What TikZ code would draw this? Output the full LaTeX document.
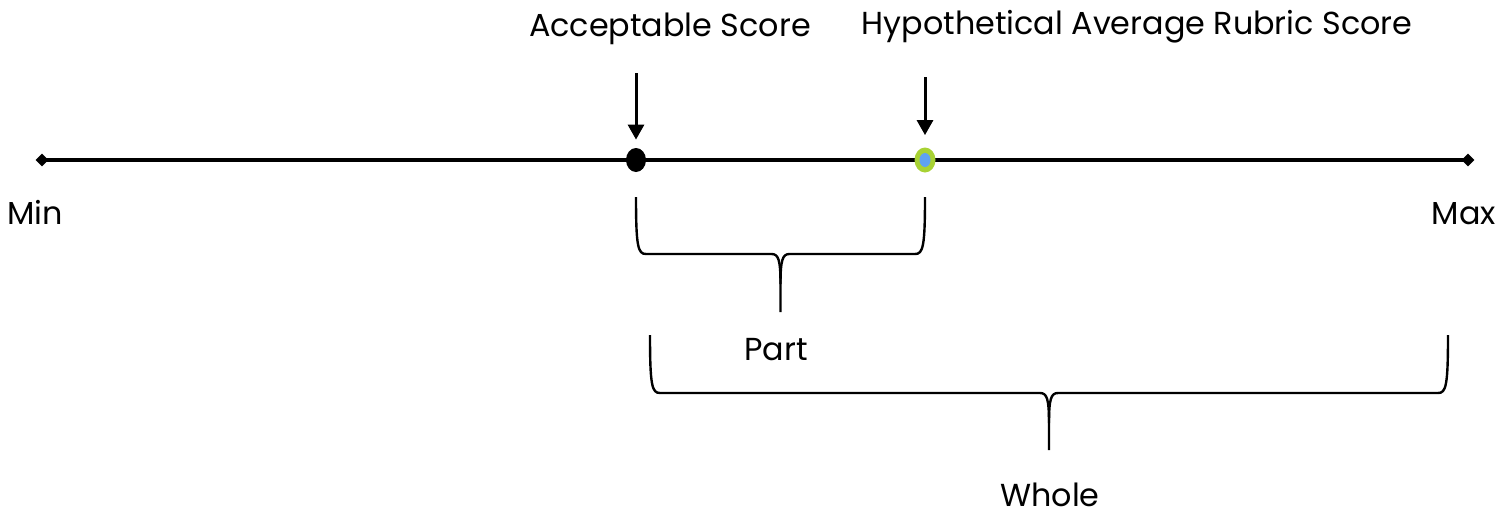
\documentclass[tikz,border=0pt]{standalone}
\usepackage{fontspec}
\setmainfont{Poppins}
\usetikzlibrary{arrows.meta,shapes.geometric}
\definecolor{ringgreen}{HTML}{A8D234}
\definecolor{coreblue}{HTML}{5EA2F2}
% curly brace: left x, right x, top y, bar y, tip y
\newcommand\spanbrace[5]{%
  \pgfmathsetmacro\bracemid{(#1+#2)/2}%
  \draw[bracestyle] (#1,#3) .. controls (#1,#4-7) and (#1+2,#4) .. (#1+10,#4)
    -- (\bracemid-9,#4) .. controls (\bracemid-2,#4) and (\bracemid,#4+6) .. (\bracemid,#4+30)
    -- (\bracemid,#5);
  \draw[bracestyle] (#2,#3) .. controls (#2,#4-7) and (#2-2,#4) .. (#2-10,#4)
    -- (\bracemid+9,#4) .. controls (\bracemid+2,#4) and (\bracemid,#4+6) .. (\bracemid,#4+30);
}
\begin{document}
\begin{tikzpicture}[x=0.5pt,y=-0.5pt,
  axis/.style={line width=2pt},
  endmark/.style={diamond,fill=black,inner sep=0pt,minimum size=6.5pt},
  pointer/.style={line width=1.5pt,-{Triangle[width=8pt,length=7.5pt]}},
  bracestyle/.style={line width=1.2pt,line join=round},
  lbl/.style={font=\fontsize{15.9pt}{19pt}\selectfont,inner sep=0pt,anchor=base}]
\useasboundingbox (0,0) rectangle (1506,515);

% number line with its two end marks
\node[endmark] (min) at (42,160) {};
\node[endmark] (max) at (1468,160) {};
\draw[axis] (min.center) -- (max.center);

% the two marked scores
\node[ellipse,fill=black,inner sep=0pt,minimum width=10pt,minimum height=12pt] (acc) at (636,160) {};
\node[ellipse,fill=ringgreen,inner sep=0pt,minimum width=10.5pt,minimum height=12.5pt] (avg) at (925,160) {};
\node[ellipse,fill=coreblue,inner sep=0pt,minimum width=5.5pt,minimum height=7pt] (avgcore) at (925,160) {};

% labels
\node[lbl] (acclbl) at (670,36) {Acceptable Score};
\node[lbl] (avglbl) at (1137,34) {Hypothetical Average Rubric Score};
\node[lbl] (minlbl) at (35,224) {Min};
\node[lbl] (maxlbl) at (1464,224) {Max};
\node[lbl] (partlbl) at (776,360) {Part};
\node[lbl] (wholelbl) at (1050,506) {Whole};

% pointers onto the scores
\coordinate (acctop) at (636,73);
\coordinate (avgtop) at (925,77);
\draw[pointer] (acctop) -- ([yshift=4pt]acc.north);
\draw[pointer] (avgtop) -- ([yshift=6pt]avg.north);

% part and whole braces
\spanbrace{636}{925}{197}{254}{312}
\spanbrace{650}{1448}{335}{393}{450}
\end{tikzpicture}
\end{document}
